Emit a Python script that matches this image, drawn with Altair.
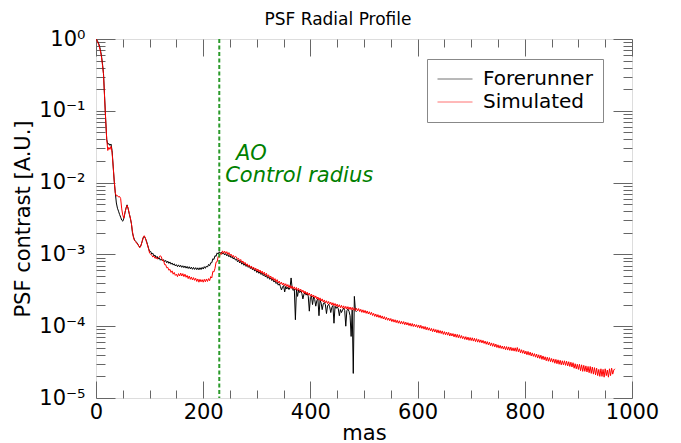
import altair as alt
import pandas as pd

# ---------------- data (contrast values in units of 1e-5) ----------------
r_early = list(range(0, 101, 2))
fore_early = [100000, 96000, 90000, 83000, 72000, 60000, 46000, 33000, 16000, 7700,
              4000, 3400, 3500, 3300, 3450, 2800, 1700, 1050, 720, 520,
              440, 400, 360, 330, 300, 290, 320, 380, 440, 490,
              430, 370, 320, 270, 200, 175, 158, 152, 147, 138,
              130, 126, 135, 150, 170, 178, 168, 155, 138, 122, 110]
sim_early = [100000, 94000, 87000, 79000, 69000, 57000, 44000, 32000, 15500, 7600,
             4000, 2800, 3100, 2900, 3200, 2600, 1700, 1050, 720, 650,
             660, 630, 640, 600, 430, 350, 320, 380, 440, 480,
             440, 370, 325, 270, 210, 170, 155, 150, 142, 140,
             128, 124, 132, 152, 172, 182, 170, 150, 135, 120, 104]

r_fore = list(range(102, 487, 2))
fore_vals = [110, 101, 104, 95, 98, 90, 94, 86, 90, 83,
             86.5, 81, 84.5, 79, 82.5, 76.5, 80.5, 75, 78.5, 73,
             76, 71, 74, 69, 72, 67.5, 71.5, 67, 70.5, 66,
             69.5, 65.3, 69, 64.4, 68, 63.6, 67.3, 62.8, 66.5, 62,
             65.8, 61.8, 65.4, 61.3, 65, 61, 65.2, 61.5, 66, 62.5,
             67.5, 64, 69, 66.5, 72.5, 69.5, 76.5, 76.5, 87, 85,
             96, 94, 105, 101, 109, 103, 108, 101, 105, 98,
             103, 95.5, 100, 92.5, 97, 90, 94, 86.5, 90.5, 83.5,
             86, 79, 83, 76, 80, 73, 77, 70.5, 74.5, 68,
             71.5, 66, 69.5, 63.5, 66.5, 61, 64, 58.5, 61.5, 56,
             59, 54.5, 57, 52.5, 55, 50.5, 53, 48.5, 51, 46.5,
             49, 45, 47.2, 43.2, 45.2, 41.2, 43.2, 39.3, 41, 37.3,
             39, 35.8, 32, 35, 36.8, 30, 35.8, 33, 35, 32.4,
             34.4, 47, 33.8, 31.5, 33, 12.3, 32.5, 26, 31.8, 29.4,
             31, 28.7, 24, 27.9, 29.4, 27.1, 28.5, 26.2, 16.2, 25.2,
             26.4, 20, 25.6, 23.6, 19, 22.8, 23.8, 14, 23, 21,
             17, 20.4, 21.4, 19.8, 15, 19.2, 20.2, 18.6, 15.5, 18.3,
             19.4, 11, 19, 17.7, 18.7, 17.5, 14, 17.1, 15.5, 16.8,
             17.8, 16.6, 10, 16.4, 17.3, 16.2, 14, 7.2, 16.9, 2.2,
             26, 16.5, 15.8]

r_sim = list(range(102, 969, 2))
sim_vals = [101, 97, 92, 95, 88, 91, 86, 89, 92, 96,
            92, 82, 83, 72, 72, 65, 66, 60, 62, 56,
            59, 53, 56, 51, 53, 49, 54, 50, 55, 50,
            54, 49, 53, 48, 51, 46, 50, 45, 48.5, 44,
            47.5, 43.5, 46.5, 42, 45.5, 41, 45, 41.5, 44.5, 41,
            45, 41.5, 45.5, 42, 46, 43, 49, 47, 58, 57,
            64, 78, 79, 94, 91, 104, 100, 112, 104, 111,
            103, 109, 100, 106, 97, 101, 93, 97, 90, 94,
            92, 85, 88, 80, 85, 77, 81, 74, 77.5, 70.5,
            74, 67.5, 71.5, 65, 69, 62.5, 66.5, 61, 64.5, 58.5,
            62.5, 57, 60.5, 55, 58.5, 53, 56.5, 51, 54.5, 49,
            52, 47, 50, 45, 48, 43.5, 46, 41.5, 44.5, 40,
            42.5, 38.5, 41, 37.5, 40, 36.5, 39, 35.5, 38, 34.5,
            37, 33.6, 36.2, 33, 35.3, 32.2, 34.6, 31.4, 33.7, 30.8,
            32.8, 29.8, 31.8, 28.8, 30.8, 27.9, 29.8, 27.1, 29, 26.2,
            28, 25.5, 27.2, 24.7, 26.4, 23.8, 25.5, 23, 24.8, 22.4,
            24, 21.7, 23.2, 21.1, 22.6, 20.6, 22.1, 20.2, 21.6, 19.7,
            21.2, 19.3, 20.7, 18.9, 20.3, 18.5, 19.9, 18.1, 19.5, 17.8,
            19.2, 17.5, 18.9, 17.3, 18.7, 17.1, 18.5, 16.9, 18.3, 16.7,
            18, 16.5, 17.8, 16.3, 17.6, 16, 17.2, 15.6, 16.9, 15.4,
            16.6, 15.1, 16.3, 14.8, 15.9, 14.5, 15.6, 14.1, 15.1, 13.7,
            14.8, 13.4, 14.5, 13.2, 14.2, 12.9, 13.9, 12.6, 13.6, 12.3,
            13.3, 12.1, 13, 11.9, 12.8, 11.6, 12.5, 11.4, 12.3, 11.2,
            12.1, 11, 11.9, 10.8, 11.7, 10.7, 11.6, 10.5, 11.4, 10.4,
            11.2, 10.2, 11, 10, 10.9, 9.9, 10.7, 9.8, 10.5, 9.6,
            10.4, 9.4, 10.3, 9.3, 10, 9.1, 9.9, 8.9, 9.7, 8.8,
            9.5, 8.6, 9.3, 8.4, 9.2, 8.3, 9, 8.1, 8.9, 8,
            8.7, 7.9, 8.6, 7.7, 8.4, 7.6, 8.3, 7.5, 8.2, 7.3,
            8, 7.3, 7.9, 7.1, 7.8, 7, 7.7, 6.9, 7.6, 6.8,
            7.4, 6.7, 7.2, 6.55, 7.15, 6.45, 7.05, 6.35, 6.95, 6.3,
            6.9, 6.2, 6.8, 6.1, 6.7, 6.0, 6.55, 5.95, 6.45, 5.85,
            6.35, 5.75, 6.2, 5.6, 6.1, 5.5, 6.0, 5.35, 5.85, 5.25,
            5.75, 5.15, 5.65, 5.05, 5.5, 4.95, 5.4, 4.9, 5.3, 4.8,
            5.25, 4.7, 5.2, 4.65, 5.15, 4.6, 5.1, 4.55, 5.0, 4.5,
            5.0, 4.45, 5.05, 4.4, 4.85, 4.25, 4.7, 4.2, 4.6, 4.1,
            4.5, 4.0, 4.45, 3.95, 4.35, 3.85, 4.25, 3.8, 4.15, 3.7,
            4.1, 3.6, 4.0, 3.55, 3.95, 3.45, 3.85, 3.4, 3.75, 3.3,
            3.7, 3.25, 3.65, 3.2, 3.55, 3.15, 3.5, 3.05, 3.45, 3.0,
            3.4, 2.95, 3.35, 2.9, 3.3, 2.9, 3.3, 2.85, 3.25, 2.8,
            3.2, 2.75, 3.15, 2.7, 3.1, 2.6, 3.0, 2.55, 2.95, 2.5,
            2.95, 2.4, 2.9, 2.35, 2.85, 2.35, 2.8, 2.3, 2.75, 2.25,
            2.75, 2.2, 2.7, 2.15, 2.65, 2.1, 2.6, 2.05, 2.5, 2.0,
            2.55, 2.0, 2.5, 1.95, 2.55, 2.05, 2.45, 1.95, 2.55, 2.05,
            2.6, 2.15, 2.45, 2.55]

series_names = ["Forerunner", "Simulated"]
series_colors = ["#000000", "#ff0000"]

control_radius = [230]
annot_text = ["AO", "Control radius"]
annot_r = [261, 241]
annot_v = [0.0204, 0.0101]

x_ticks = list(range(0, 1001, 50))
x_labels = [0, 200, 400, 600, 800, 1000]
decades = [1e-5, 1e-4, 1e-3, 1e-2, 1e-1, 1.0]
y_ticks = [m * d for d in decades[:-1] for m in range(1, 10)] + [1.0]
y_label_text = ["10\u207b\u2075", "10\u207b\u2074", "10\u207b\u00b3", "10\u207b\u00b2", "10\u207b\u00b9", "10\u2070"]

# ---------------- tables ----------------
fore_df = pd.DataFrame({"r": r_early + r_fore,
                        "v": [x * 1e-5 for x in fore_early + fore_vals],
                        "series": series_names[0]})
sim_df = pd.DataFrame({"r": r_early + r_sim,
                       "v": [x * 1e-5 for x in sim_early + sim_vals],
                       "series": series_names[1]})
rule_df = pd.DataFrame({"r": control_radius})
text_df = pd.DataFrame({"label": annot_text, "r": annot_r, "v": annot_v})

W, H = 536, 359
FONT = "DejaVu Sans"
TICK = "#666666"

xs = alt.Scale(domain=[0, 1000], nice=False, zero=False)
ys = alt.Scale(type="log", domain=[1e-5, 1], nice=False)
cs = alt.Scale(domain=series_names, range=series_colors)

x_major = {"condition": {"test": "datum.value % 200 === 0", "value": 17}, "value": 8}
y_major = {"condition": {"test": "abs(log(datum.value)/LN10 - round(log(datum.value)/LN10)) < 0.001",
                         "value": 19}, "value": 9}

label_js = "[" + ",".join("'%s'" % t for t in y_label_text) + "][round(log(datum.value)/LN10)+5]"

x_lab_axis = alt.Axis(orient="bottom", values=x_labels, format="d", ticks=False, domain=False,
                      grid=False, labelFontSize=21, labelColor="black", labelPadding=3,
                      labelFlush=False, labelOverlap=False, labelFont=FONT,
                      title="mas", titleFontSize=21, titleFontWeight="normal",
                      titleColor="black", titlePadding=0, titleFont=FONT)
y_lab_axis = alt.Axis(orient="left", values=decades, labelExpr=label_js, ticks=False, domain=False,
                      grid=False, labelFontSize=21, labelColor="black", labelPadding=11,
                      labelFlush=False, labelOverlap=False, labelFont=FONT,
                      title="PSF contrast [A.U.]", titleFontSize=21, titleFontWeight="normal",
                      titleColor="black", titlePadding=5, titleFont=FONT)

x_in_bottom = alt.Axis(orient="top", offset=-H, values=x_ticks, labels=False, domain=False,
                       grid=False, title=None, tickColor=TICK, tickWidth=1, tickSize=x_major)
x_in_top = alt.Axis(orient="bottom", offset=-H, values=x_ticks, labels=False, domain=False,
                    grid=False, title=None, tickColor=TICK, tickWidth=1, tickSize=x_major)
y_in_left = alt.Axis(orient="right", offset=-W, values=y_ticks, labels=False, domain=False,
                     grid=False, title=None, tickColor=TICK, tickWidth=1, tickSize=y_major)
y_in_right = alt.Axis(orient="left", offset=-W, values=y_ticks, labels=False, domain=False,
                      grid=False, title=None, tickColor=TICK, tickWidth=1, tickSize=y_major)

legend = alt.Legend(title=None, orient="none", legendX=331, legendY=20, direction="vertical",
                    symbolType="stroke", symbolSize=1225, symbolStrokeWidth=1, clipHeight=20,
                    labelFontSize=20, labelFont=FONT, labelColor="black", padding=10,
                    strokeColor="#888888", fillColor="white", labelOffset=10, rowPadding=3,
                    symbolOpacity=0.55)

fore = alt.Chart(fore_df).mark_line(strokeWidth=1, clip=True).encode(
    x=alt.X("r:Q", scale=xs, axis=x_lab_axis),
    y=alt.Y("v:Q", scale=ys, axis=y_lab_axis),
    color=alt.Color("series:N", scale=cs, legend=legend),
)
sim = alt.Chart(sim_df).mark_line(strokeWidth=1, clip=True).encode(
    x=alt.X("r:Q", scale=xs, axis=x_in_bottom),
    y=alt.Y("v:Q", scale=ys, axis=y_in_left),
    color=alt.Color("series:N", scale=cs, legend=legend),
)
rule = alt.Chart(rule_df).mark_rule(color="#2a9a2a", strokeWidth=2, strokeDash=[4, 2.5]).encode(
    x=alt.X("r:Q", scale=xs, axis=None),
)
text = alt.Chart(text_df).mark_text(align="left", baseline="alphabetic", fontSize=21,
                                    fontStyle="italic", font=FONT, color="#008000").encode(
    x=alt.X("r:Q", scale=xs, axis=x_in_top),
    y=alt.Y("v:Q", scale=ys, axis=y_in_right),
    text="label:N",
)

chart = alt.layer(fore, sim, rule, text).resolve_axis(x="independent", y="independent").properties(
    width=W, height=H,
    title=alt.TitleParams("PSF Radial Profile", fontSize=17, fontWeight="normal", font=FONT,
                          color="black", anchor="middle", frame="group", dx=-26,
                          baseline="alphabetic", offset=-14),
    autosize=alt.AutoSizeParams(type="none"),
    padding={"left": 96, "top": 39, "right": 49, "bottom": 45},
).configure_view(stroke=TICK, strokeWidth=1).configure(font=FONT)

chart.save("out.html", embed_options={"renderer": "svg", "actions": False})
